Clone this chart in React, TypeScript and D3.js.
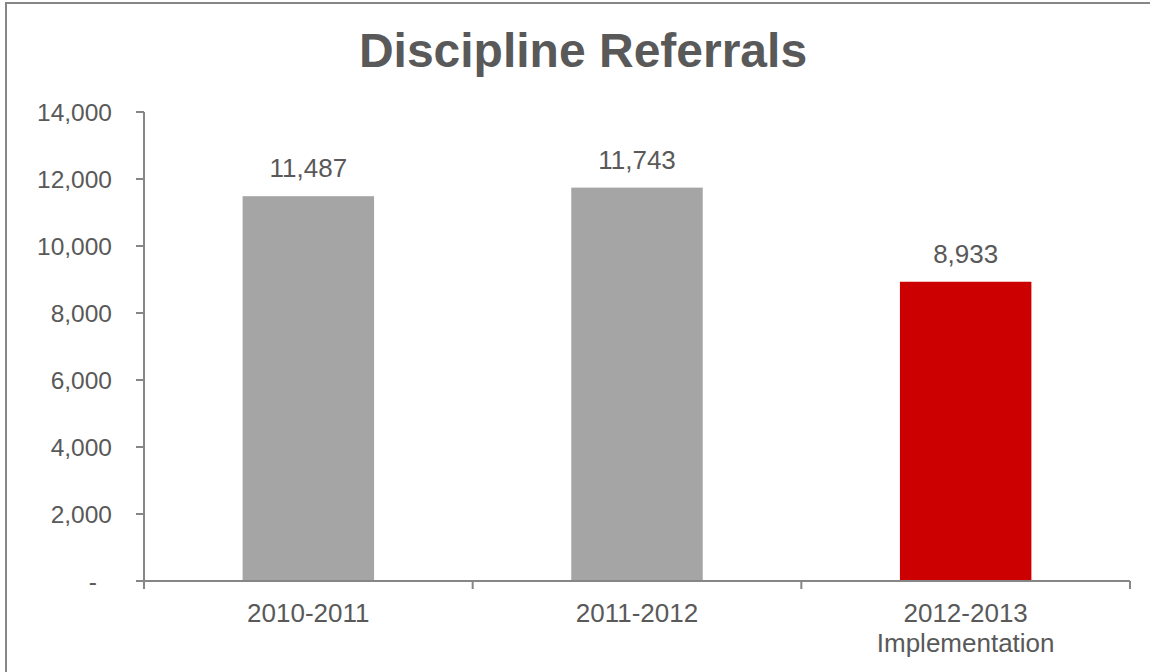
import React from "react";
import * as d3 from "d3";

const title = "Discipline Referrals";
const categories = ["2010-2011", "2011-2012", "2012-2013"];
const categorySubLabels = ["", "", "Implementation"];
const values = [11487, 11743, 8933];
const barColors = ["#A5A5A5", "#A5A5A5", "#CC0000"];
const yTicks = [0, 2000, 4000, 6000, 8000, 10000, 12000, 14000];

const W = 1150;
const H = 672;
const FONT = "'Liberation Sans', Arial, sans-serif";
const TEXT = "#595959";
const AXIS = "#868686";

export default function App() {
  const left = 144;
  const right = 1130;
  const top = 112;
  const bottom = 581;

  const x = d3.scaleBand<string>().domain(categories).range([left, right]).paddingInner(0.6).paddingOuter(0.3);
  const y = d3.scaleLinear().domain([0, 14000]).range([bottom, top]);
  const fmt = d3.format(",");
  const step = x.step();
  const boundaries = d3.range(categories.length + 1).map((i) => left + i * step);

  return (
    <svg width={W} height={H} style={{ position: "absolute", left: 0, top: 0, background: "#fff" }} fontFamily={FONT}>
      <rect x={6} y={3} width={W + 20} height={H + 20} fill="#fff" stroke={AXIS} strokeWidth={2} />
      <text x={583} y={67} textAnchor="middle" fontSize={48} fontWeight="bold" fill={TEXT}>
        {title}
      </text>

      {/* bars */}
      {categories.map((c, i) => (
        <rect key={c} x={x(c)} y={y(values[i])} width={x.bandwidth()} height={y(0) - y(values[i])} fill={barColors[i]} />
      ))}

      {/* data labels */}
      {categories.map((c, i) => (
        <text key={"l" + c} x={(x(c) as number) + x.bandwidth() / 2} y={y(values[i]) - 19} textAnchor="middle" fontSize={26} fill={TEXT}>
          {fmt(values[i])}
        </text>
      ))}

      {/* y axis */}
      <line x1={left} x2={left} y1={y(14000)} y2={bottom + 8} stroke={AXIS} strokeWidth={2} />
      {yTicks.map((t) => (
        <g key={t}>
          <line x1={left - 8} x2={left} y1={y(t)} y2={y(t)} stroke={AXIS} strokeWidth={2} />
          <text x={t === 0 ? 97 : 112} y={y(t)} dy="0.35em" textAnchor="end" fontSize={24.5} fill={TEXT}>
            {t === 0 ? "-" : fmt(t)}
          </text>
        </g>
      ))}

      {/* x axis */}
      <line x1={left} x2={right} y1={bottom} y2={bottom} stroke={AXIS} strokeWidth={2} />
      {boundaries.map((bx, i) => (
        <line key={i} x1={bx} x2={bx} y1={bottom} y2={bottom + 8} stroke={AXIS} strokeWidth={2} />
      ))}
      {categories.map((c, i) => {
        const cx = (x(c) as number) + x.bandwidth() / 2;
        return (
          <text key={"x" + c} x={cx} y={622} textAnchor="middle" fontSize={26} fill={TEXT}>
            <tspan x={cx}>{c}</tspan>
            {categorySubLabels[i] ? (
              <tspan x={cx} y={652}>
                {categorySubLabels[i]}
              </tspan>
            ) : null}
          </text>
        );
      })}
    </svg>
  );
}
